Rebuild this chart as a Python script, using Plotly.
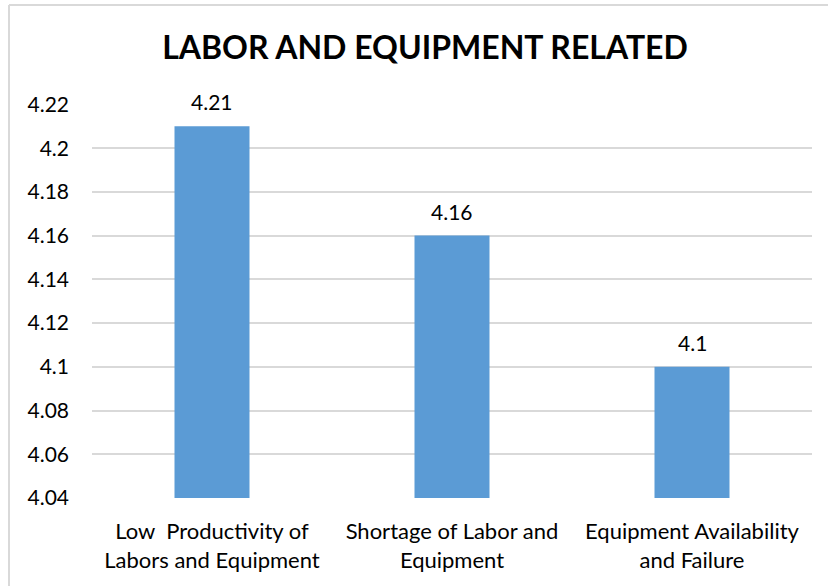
import plotly.graph_objects as go

# Chart data
categories = [
    "Low  Productivity of<br>Labors and Equipment",
    "Shortage of Labor and<br>Equipment",
    "Equipment Availability<br>and Failure",
]
scores = [4.21, 4.16, 4.10]
score_labels = ["4.21", "4.16", "4.1"]
y_ticks = [4.04, 4.06, 4.08, 4.10, 4.12, 4.14, 4.16, 4.18, 4.20, 4.22]
y_tick_text = ["4.04", "4.06", "4.08", "4.1", "4.12", "4.14", "4.16", "4.18", "4.2", "4.22"]

W, H = 828, 586
ML, MR, MT, MB = 92, 16, 104, 88
PW, PH = W - ML - MR, H - MT - MB

FONT = "Lato, Open Sans, sans-serif"
GRID = "#D9D9D9"

fig = go.Figure(
    go.Bar(
        x=categories,
        y=scores,
        marker=dict(color="#5B9BD5", line=dict(width=0)),
        width=0.3125,
        hoverinfo="x+y",
    )
)

# value labels above each bar
for cat, val, lab in zip(categories, scores, score_labels):
    fig.add_annotation(
        x=cat, y=val, text=lab, showarrow=False,
        yanchor="bottom", yshift=10,
        font=dict(family=FONT, size=21, color="#000000"),
    )

# chart-area border (top and left edges)
def px_x(px):
    return (px - ML) / PW

def px_y(py):
    return 1 + (MT - py) / PH

fig.add_shape(type="line", xref="paper", yref="paper",
              x0=px_x(9), x1=px_x(840), y0=px_y(5), y1=px_y(5),
              line=dict(color=GRID, width=2))
fig.add_shape(type="line", xref="paper", yref="paper",
              x0=px_x(9), x1=px_x(9), y0=px_y(5), y1=px_y(600),
              line=dict(color=GRID, width=2))

fig.update_layout(
    width=W, height=H,
    margin=dict(l=ML, r=MR, t=MT, b=MB),
    paper_bgcolor="white", plot_bgcolor="white",
    showlegend=False,
    bargap=0.6875,
    title=dict(
        text="<b>LABOR AND EQUIPMENT RELATED</b>",
        x=425 / W, xanchor="center", xref="container",
        y=1 - 48 / H, yanchor="middle", yref="container",
        font=dict(family=FONT, size=32, color="#000000"),
    ),
    xaxis=dict(
        showgrid=False, showline=False, ticks="",
        tickfont=dict(family=FONT, size=22, color="#000000"),
        ticklabelstandoff=18,
    ),
    yaxis=dict(
        range=[4.04, 4.2202],
        tickmode="array", tickvals=y_ticks, ticktext=y_tick_text,
        showgrid=True, gridcolor=GRID, gridwidth=1.5,
        zeroline=False, showline=False, ticks="",
        tickfont=dict(family=FONT, size=21, color="#000000"),
        ticklabelstandoff=22,
    ),
)

fig.write_html("out.html")
